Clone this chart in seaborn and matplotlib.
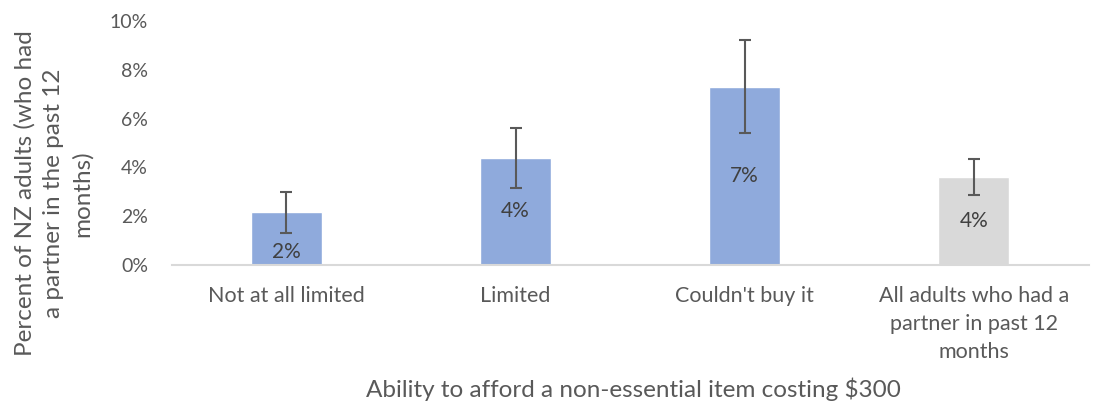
import pandas as pd
import seaborn as sns
import matplotlib.pyplot as plt

#------------- data
categories = ["Not at all limited", "Limited", "Couldn't buy it",
              "All adults who had a\npartner in past 12\nmonths"]
values = [2.16, 4.39, 7.31, 3.61]      # percent
ci_low = [1.32, 3.16, 5.40, 2.88]
ci_high = [2.99, 5.61, 9.22, 4.36]
labels = ["2%", "4%", "7%", "4%"]
bar_colors = ["#8FAADC", "#8FAADC", "#8FAADC", "#D9D9D9"]

df = pd.DataFrame({"group": categories, "pct": values})

#------------- style
sns.set_style("white")
plt.rcParams['font.family'] = ['Lato', 'DejaVu Sans']
txt = "#595959"

fig = plt.figure(figsize=(10.94, 4.05), dpi=100)
ax = fig.add_axes([0.157, 0.346, 0.838, 0.602])

sns.barplot(data=df, x="group", y="pct", hue="group", palette=bar_colors,
            width=0.31, legend=False, ax=ax, saturation=1)

# error bars (confidence intervals)
err_lo = [v - l for v, l in zip(values, ci_low)]
err_hi = [h - v for v, h in zip(values, ci_high)]
ax.errorbar(range(len(values)), values, yerr=[err_lo, err_hi], fmt="none",
            ecolor=txt, elinewidth=1.5, capsize=4.5, capthick=1.5)

# value labels inside bars (first one sits low, under the error bar)
for i, (v, lab) in enumerate(zip(values, labels)):
    y = v / 2 if i != 0 else v * 0.25
    ax.text(i, y, lab, ha="center", va="center", fontsize=15, color="#404040")

#------------- axes
ax.set_ylim(0, 10)
ax.set_xlim(-0.5, 3.5)
ax.set_yticks([0, 2, 4, 6, 8, 10])
ax.set_yticklabels(["0%", "2%", "4%", "6%", "8%", "10%"])
ax.tick_params(axis="y", labelsize=14, colors=txt, length=0, pad=17)
ax.tick_params(axis="x", labelsize=15.5, colors=txt, length=0, pad=15)
for lab in ax.get_xticklabels():
    lab.set_linespacing(1.5)
    lab.set_verticalalignment("top")
for s in ["top", "right", "left"]:
    ax.spines[s].set_visible(False)
ax.spines["bottom"].set_color("#D9D9D9")
ax.spines["bottom"].set_linewidth(1.5)

ax.set_xlabel("")
ax.set_ylabel("")
fig.text(0.579, 0.040, "Ability to afford a non-essential item costing $300",
         ha="center", va="center", fontsize=17.5, color=txt)
fig.text(0.049, 0.522, "Percent of NZ adults (who had\na partner in the past 12\nmonths)",
         ha="center", va="center", rotation=90, fontsize=17.5, color=txt,
         linespacing=1.42)

plt.savefig("out.png", dpi=100)
